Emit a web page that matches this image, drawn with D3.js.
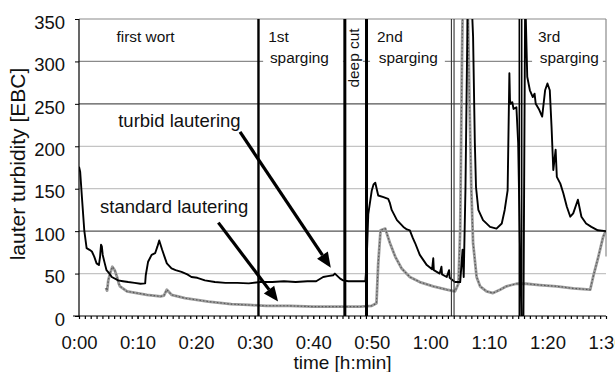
<!DOCTYPE html>
<html><head><meta charset="utf-8">
<script src="https://cdn.jsdelivr.net/npm/d3@7"></script>
<style>
html,body{margin:0;padding:0;background:#fff;}
svg{display:block;font-family:"Liberation Sans",Arial,sans-serif;}
</style></head>
<body><svg id="c" width="615" height="372"></svg>
<script>
// ---- data (time in minutes, turbidity in EBC) ----
const yTicks = [0, 50, 100, 150, 200, 250, 300, 350];
const xTicks = [0, 10, 20, 30, 40, 50, 60, 70, 80, 90];
const xTickLabels = ["0:00","0:10","0:20","0:30","0:40","0:50","1:00","1:10","1:20","1:30"];
const turbidTime = [0,0.2,0.5,0.9,1.3,1.8,2.2,2.6,3.0,3.4,3.6,3.76,3.9,4.05,4.4,4.7,5.2,5.6,6.7,7.5,8.4,9.5,10.5,11.3,11.4,11.8,12.4,13.0,13.4,13.7,14.2,14.6,15.0,15.8,16.5,17.5,18.5,19.2,20.2,21.5,23.2,25,27,29,31,33,35,37,39,40.5,41.7,42.5,43.4,43.7,44.6,45.1,46,47.5,48.9,49.1,49.4,50.0,50.3,50.6,51.1,52.0,52.8,53.1,53.4,54.3,55.4,56.0,56.5,57.0,57.4,58.2,59.4,60.3,60.5,60.6,61.6,61.9,62.0,62.8,63.2,63.3,64.2,65.1,65.5,65.7,66.0,66.4,67.0,67.3,67.6,67.8,68.2,69.0,70.2,71.3,72.2,72.7,73.2,73.5,73.6,73.7,74.0,74.2,74.7,75.0,75.3,75.55,75.9,76.2,76.55,77.0,77.5,77.8,78.0,78.6,79.1,79.6,80.0,80.4,80.7,81.0,81.4,81.6,82.2,82.7,83.3,83.9,84.4,85.2,85.8,86.6,87.5,88.6,90];
const turbidValue = [176,170,140,101,80,78,76,70,62,60,70,84,82,72,62,54,50,46,42,41,40,39,38,38.5,48,64,72,74,82,89,78,70,62,56,54,52,49,46,45,42,40,39,39,38.5,40,40,41,40,41,41,46,47,48,50,44,42,41,41,41,60,120,148,155,157,142,140,138,133,125,113,105,102,101,92,86,72,60,55,68,54,50,58,49,46,54,45,40,40,78,46,150,380,380,329,204,152,125,113,105,103,109,125,148,286,255,250,252,244,246,204,86,0,0,380,282,266,258,262,250,243,235,266,274,266,223,172,196,164,156,145,129,117,121,137,117,109,105,101,100];
const standardTime = [4.6,4.8,5.0,5.3,5.7,6.1,6.5,6.8,7.0,8.2,9.9,11.6,13.9,14.5,15.0,15.4,15.8,18.1,22.1,26,29,32,36,40,44,48,50.0,50.8,51.1,51.5,52.3,53.1,54.0,55.1,56.5,58.2,60.5,62.8,64.2,64.8,65.1,65.4,65.6,66.3,66.7,67.0,67.3,67.9,68.5,69.6,70.7,71.9,73.0,74.7,76.4,78.7,81.6,84.4,87.3,87.8,88.7,89.5,90];
const standardValue = [33,30,42,50,58,54,46,38,35,29,27,25,23,24,31,28,25,21,17,14,13,12,12,11,11,11,12,15,62,101,103,86,70,56,46,40,35,31,29,38,101,300,400,400,250,150,86,46,35,29,27,31,35,38,38,36.5,35,32.6,31,46,70,93,101];
const phaseLines = [30.65, 45.4, 49.1];
const phaseDoubleLines = [63.6, 64.05];
const phaseDoubleLines2 = [75.2, 75.6];

// ---- layout ----
const svg = d3.select("#c");
const x = d3.scaleLinear().domain([0, 90]).range([79, 606]);
const y = d3.scaleLinear().domain([0, 350]).range([316, 19]);

svg.append("defs").append("clipPath").attr("id","plot")
  .append("rect").attr("x",79).attr("y",19).attr("width",527).attr("height",297);

// gridlines
const gridColor = {50:"#c4c4c4",100:"#555",150:"#c4c4c4",200:"#c4c4c4",250:"#555",300:"#8a8a8a",350:"#8a8a8a"};
svg.append("g").selectAll("line").data(yTicks.filter(d=>d>0)).join("line")
  .attr("x1",x(0)).attr("x2",x(90)).attr("y1",d=>y(d)).attr("y2",d=>y(d))
  .attr("stroke",d=>gridColor[d]).attr("stroke-width",1.2);
// right border
svg.append("line").attr("x1",x(90)).attr("x2",x(90)).attr("y1",y(350)).attr("y2",y(70))
  .attr("stroke","#8a8a8a").attr("stroke-width",1.2);

// phase labels with white boxes
const labG = svg.append("g").attr("font-size",15.4).attr("fill","#111");
function boxedText(lines, xm, ym, padL, padR, box) {
  const g = labG.append("g");
  const t = g.append("text").attr("x", x(xm)).attr("y", y(ym));
  lines.forEach((s,i)=>{ t.append("tspan").attr("x", x(xm + (i?0.3:0))).attr("dy", i?20.8:0).text(s); });
  if (box) {
    const b = t.node().getBBox();
    g.insert("rect","text").attr("x",b.x-padL).attr("y",b.y-2).attr("width",b.width+padL+padR).attr("height",b.height+2).attr("fill","#fff");
  }
}
boxedText(["first wort"], 6.4, 323, 0, 0, false);
boxedText(["1st","sparging"], 32.3, 323, 5, 14, true);
boxedText(["2nd","sparging"], 50.9, 323, 7, 7, true);
boxedText(["3rd","sparging"], 78.4, 323, 6, 4, true);
{
  const g = labG.append("g");
  const t = g.append("text").attr("text-anchor","middle")
    .attr("transform",`translate(${x(47.8)},${y(304)}) rotate(-90)`).text("deep cut");
  const b = t.node().getBBox();
  g.insert("rect","text").attr("transform",`translate(${x(47.8)},${y(304)}) rotate(-90)`)
    .attr("x",b.x-2).attr("y",b.y-1).attr("width",b.width+4).attr("height",b.height+2).attr("fill","#fff");
}

// data lines
const line = d3.line().x(d=>x(d[0])).y(d=>y(d[1]));
const turbid = turbidTime.map((t,i)=>[t, turbidValue[i]]);
const standard = standardTime.map((t,i)=>[t, standardValue[i]]);
const dg = svg.append("g").attr("clip-path","url(#plot)");
dg.append("path").datum(standard).attr("d",line).attr("fill","none")
  .attr("stroke","#9c9c9c").attr("stroke-width",2.8).attr("stroke-linejoin","round");
dg.append("path").datum(standard).attr("d",line).attr("fill","none")
  .attr("stroke","#555").attr("stroke-width",1.1).attr("stroke-dasharray","1.5 2");
dg.append("path").datum(turbid).attr("d",line).attr("fill","none")
  .attr("stroke","#000").attr("stroke-width",1.9).attr("stroke-linejoin","round");

// phase separators
svg.append("g").selectAll("line").data(phaseLines).join("line")
  .attr("x1",d=>x(d)).attr("x2",d=>x(d)).attr("y1",y(350)).attr("y2",y(0))
  .attr("stroke","#000").attr("stroke-width",d=>d<40?2.4:3);
svg.append("g").selectAll("line").data(phaseDoubleLines).join("line")
  .attr("x1",d=>x(d)).attr("x2",d=>x(d)).attr("y1",y(350)).attr("y2",y(0))
  .attr("stroke","#333").attr("stroke-width",1.1);
svg.append("g").selectAll("line").data(phaseDoubleLines2).join("line")
  .attr("x1",d=>x(d)).attr("x2",d=>x(d)).attr("y1",y(350)).attr("y2",y(0))
  .attr("stroke","#000").attr("stroke-width",1.6);

// axes
const yAxis = d3.axisLeft(y).tickValues(yTicks).tickSize(4).tickSizeOuter(0).tickPadding(10);
const yg = svg.append("g").attr("transform",`translate(${x(0)},0)`).call(yAxis);
yg.select(".domain").remove();
yg.selectAll("text").attr("font-size",18.5).attr("dy","0.5em").attr("fill","#111").attr("font-family",null);
svg.append("line").attr("x1",x(0)).attr("x2",x(0)).attr("y1",y(350)).attr("y2",y(0)).attr("stroke","#000").attr("stroke-width",1.2);

const xMinor = d3.axisBottom(x).tickValues(d3.range(0,91,1)).tickSize(3).tickFormat("").tickSizeOuter(0);
const xmg = svg.append("g").attr("transform",`translate(0,${y(0)})`).call(xMinor);
xmg.select(".domain").remove();
xmg.selectAll("line").attr("stroke-width",1.2);
const xAxis = d3.axisBottom(x).tickValues(xTicks).tickSize(3).tickPadding(17).tickSizeOuter(0)
  .tickFormat((d,i)=>xTickLabels[i]);
const xg = svg.append("g").attr("transform",`translate(0,${y(0)})`).call(xAxis);
xg.select(".domain").remove();
xg.selectAll("text").attr("font-size",18.5).attr("fill","#111").attr("font-family",null);
svg.append("line").attr("x1",x(0)-6).attr("x2",x(90)).attr("y1",y(0)).attr("y2",y(0)).attr("stroke","#000").attr("stroke-width",1.2);

// axis titles
svg.append("text").attr("transform","translate(25,164) rotate(-90)").attr("text-anchor","middle")
  .attr("font-size",21).attr("fill","#111").text("lauter turbidity [EBC]");
svg.append("text").attr("x",(x(0)+x(90))/2).attr("y",369).attr("text-anchor","middle")
  .attr("font-size",19).attr("fill","#111").text("time [h:min]");

// annotations with arrows
function arrow(x1,y1,x2,y2){
  const X1=x(x1),Y1=y(y1),X2=x(x2),Y2=y(y2);
  const a=Math.atan2(Y2-Y1,X2-X1), L=15, W=6.5;
  const bx=X2-L*Math.cos(a), by=Y2-L*Math.sin(a);
  svg.append("line").attr("x1",X1).attr("y1",Y1).attr("x2",bx).attr("y2",by).attr("stroke","#000").attr("stroke-width",3.2);
  svg.append("path").attr("d",`M${X2},${Y2}L${bx+W*Math.sin(a)},${by-W*Math.cos(a)}L${bx-W*Math.sin(a)},${by+W*Math.cos(a)}Z`).attr("fill","#000");
}
svg.append("text").attr("x",x(6.7)).attr("y",y(223)).attr("font-size",18.5).attr("fill","#111").text("turbid lautering");
svg.append("text").attr("x",x(3.6)).attr("y",y(121)).attr("font-size",18.5).attr("fill","#111").text("standard lautering");
arrow(27.5,217,43.0,57);
arrow(23.8,110,34.0,17);
</script></body></html>
